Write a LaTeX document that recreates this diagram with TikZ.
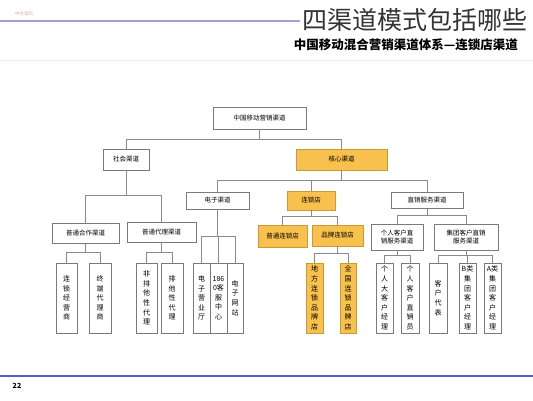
\documentclass[tikz,border=0pt]{standalone}
\usepackage{fontspec}
\setmainfont{Noto Sans CJK SC}
\definecolor{boxgray}{HTML}{7A7A7A}
\definecolor{linegray}{HTML}{8A8A8A}
\definecolor{orfill}{HTML}{F8C04C}
\definecolor{ordraw}{HTML}{C99A35}
\definecolor{topblue}{HTML}{A0A0DC}
\definecolor{botblue}{HTML}{5A5AC8}
\definecolor{paleline}{HTML}{E2EAF2}
\definecolor{faintred}{HTML}{E8A0A0}
\begin{document}
\begin{tikzpicture}[x=1pt,y=-1pt,
  box/.style={draw=boxgray, fill=white, line width=0.6pt, inner sep=0pt,
    align=center, font=\fontsize{6.5}{8}\selectfont},
  obox/.style={box, draw=ordraw, fill=orfill},
  vbox/.style={box, minimum height=70pt, font=\fontsize{7}{9.6}\selectfont},
  ovbox/.style={vbox, draw=ordraw, fill=orfill},
  conn/.style={draw=linegray, line width=0.6pt}]
\useasboundingbox (0,0) rectangle (533,400);
\fill[white] (0,0) rectangle (533,400);

% header
\node[font=\fontsize{4.5}{5}\selectfont, text=faintred] (hdr) at (24,14) {中文首页};
\draw[topblue, line width=1.2pt] (0,21) coordinate (hl1) -- (300,21) coordinate (hl2);
\node[anchor=west, inner sep=0pt, font=\fontsize{25}{26}\selectfont, text=black!80] (title) at (302,20) {四渠道模式包括哪些};
\node[anchor=east, inner sep=0pt, font=\fontsize{12.5}{13}\selectfont\bfseries] (sub) at (518,45) {中国移动混合营销渠道体系—连锁店渠道};
\draw[paleline, line width=1pt] (0,60) coordinate (pl1) -- (533,60) coordinate (pl2);
\draw[botblue, line width=1.6pt] (0,376) coordinate (bl1) -- (533,376) coordinate (bl2);
\node[font=\fontsize{7}{8}\selectfont\bfseries] (pg) at (17,386) {22};

% level 1-2
\node[box, minimum width=93pt, minimum height=22pt] (top) at (259.5,118) {中国移动营销渠道};
\node[obox, minimum width=91pt, minimum height=21pt] (core) at (341.5,159.5) {核心渠道};
\node[box, minimum width=46pt, minimum height=21pt] (shehui) at (126,159.5) {社会渠道};

% level 3
\node[box, minimum width=63pt, minimum height=17pt] (dianzi) at (217.5,200.5) {电子渠道};
\node[obox, minimum width=48pt, minimum height=19pt] (liansuo) at (311,200.5) {连锁店};
\node[box, minimum width=72pt, minimum height=16pt] (zhixiao) at (427,200.5) {直销服务渠道};

% level 4
\node[box, minimum width=67pt, minimum height=20pt] (hezuo) at (85.5,233) {普通合作渠道};
\node[box, minimum width=69pt, minimum height=20pt] (daili) at (161.5,232) {普通代理渠道};
\node[obox, minimum width=49pt, minimum height=22pt] (ptls) at (282.5,236) {普通连锁店};
\node[obox, minimum width=51pt, minimum height=21pt] (ppls) at (337.5,235.5) {品牌连锁店};
\node[box, minimum width=52pt, minimum height=26pt] (geren) at (397,237) {个人客户直\\销服务渠道};
\node[box, minimum width=64pt, minimum height=26pt] (jituan) at (466,237) {集团客户直销\\服务渠道};

% vertical boxes
\node[vbox, minimum width=21pt] (v1) at (66.5,298) {连\\锁\\经\\营\\商};
\node[vbox, minimum width=22pt] (v2) at (100,298) {终\\端\\代\\理\\商};
\node[vbox, minimum width=21pt] (v3) at (146.5,298) {非\\排\\他\\性\\代\\理};
\node[vbox, minimum width=22pt] (v4) at (172,298) {排\\他\\性\\代\\理};
\node[vbox, minimum width=17pt] (v5) at (201.5,298) {电\\子\\营\\业\\厅};
\node[vbox, minimum width=17pt] (v6) at (218.5,298) {186\\0客\\服\\中\\心};
\node[vbox, minimum width=16pt] (v7) at (235,298) {电\\子\\网\\站};
\node[ovbox, minimum width=17pt] (v8) at (314.5,298) {地\\方\\连\\锁\\品\\牌\\店};
\node[ovbox, minimum width=16pt] (v9) at (348,298) {全\\国\\连\\锁\\品\\牌\\店};
\node[vbox, minimum width=17pt] (v10) at (384.5,298) {个\\人\\大\\客\\户\\经\\理};
\node[vbox, minimum width=18pt] (v11) at (410,298) {个\\人\\客\\户\\直\\销\\员};
\node[vbox, minimum width=18pt] (v12) at (438,298) {客\\户\\代\\表};
\node[vbox, minimum width=17pt] (v13) at (467.5,298) {B类\\集\\团\\客\\户\\经\\理};
\node[vbox, minimum width=17pt] (v14) at (492.5,298) {A类\\集\\团\\客\\户\\经\\理};

% connectors
\foreach \c in {shehui,core} \draw[conn] (top.south) -- ++(0,10) -| (\c.north);
\foreach \c in {hezuo,daili} \draw[conn] (shehui.south) -- ++(0,25) -| (\c.north);
\foreach \c in {dianzi,liansuo,zhixiao} \draw[conn] (core.south) -- ++(0,10) -| (\c.north);
\foreach \c in {v5,v6,v7} \draw[conn] (dianzi.south) -- ++(0,27) -| (\c.north);
\foreach \c in {ptls,ppls} \draw[conn] (liansuo.south) -- ++(0,6) -| (\c.north);
\foreach \c in {geren,jituan} \draw[conn] (zhixiao.south) -- ++(0,6.5) -| (\c.north);
\foreach \c in {v1,v2} \draw[conn] (hezuo.south) -- ++(0,9) -| (\c.north);
\foreach \c in {v3,v4} \draw[conn] (daili.south) -- ++(0,10) -| (\c.north);
\foreach \c in {v8,v9} \draw[conn] (ppls.south) -- ++(0,7) -| (\c.north);
\foreach \c in {v10,v11} \draw[conn] (geren.south) -- ++(0,5) -| (\c.north);
\foreach \c in {v12,v13,v14} \draw[conn] (jituan.south) -- ++(0,5) -| (\c.north);
\end{tikzpicture}
\end{document}
